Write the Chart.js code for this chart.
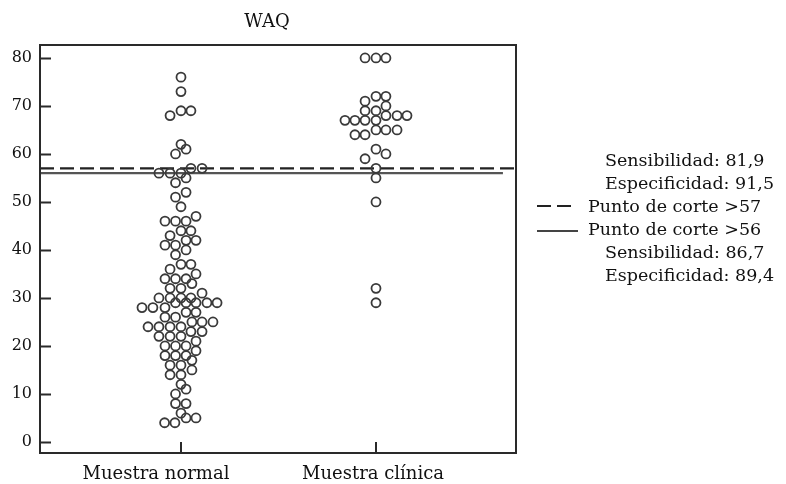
<!DOCTYPE html>
<html>
<head>
<meta charset="utf-8">
<script src="https://cdn.jsdelivr.net/npm/chart.js@4/dist/chart.umd.min.js"></script>
<style>
html,body{margin:0;padding:0;background:#fff;}
#wrap{width:786px;height:484px;position:relative;}
</style>
</head>
<body>
<div id="wrap"><canvas id="c" width="786" height="484"></canvas></div>
<script>
// ---- data ----
const chartTitle = 'WAQ';
const categories = ['Muestra normal', 'Muestra clínica'];
const yTicks = [0, 10, 20, 30, 40, 50, 60, 70, 80];

const normalValues = [
  76, 73, 68, 69, 69, 62, 61, 60, 56, 56, 56, 57, 57, 55, 54, 52, 51, 49,
  46, 46, 46, 47, 44, 44, 43, 42, 42, 41, 41, 40, 39, 37, 37, 36, 35,
  34, 34, 34, 33, 32, 32, 31, 30, 30, 30, 30,
  29, 29, 29, 29, 29, 28, 28, 28, 27, 27, 26, 26,
  25, 25, 25, 24, 24, 24, 24, 23, 23, 22, 22, 22,
  21, 20, 20, 20, 19, 18, 18, 18, 17, 16, 16, 15, 14, 14,
  12, 11, 10, 8, 8, 6, 5, 5, 4, 4
];
const normalOffsets = [
  0, 0, -0.056, 0, 0.051, 0, 0.026, -0.028, -0.113, -0.056, 0, 0.051, 0.108, 0.026, -0.028, 0.026, -0.028, 0,
  -0.082, -0.028, 0.026, 0.077, 0, 0.051, -0.056, 0.026, 0.077, -0.082, -0.028, 0.026, -0.028, 0, 0.051, -0.056, 0.077,
  -0.082, -0.028, 0.026, 0.056, -0.056, 0, 0.108, -0.113, -0.056, 0, 0.051,
  -0.028, 0.026, 0.077, 0.133, 0.185, -0.200, -0.144, -0.082, 0.026, 0.077, -0.082, -0.028,
  0.056, 0.108, 0.164, -0.169, -0.113, -0.056, 0, 0.051, 0.108, -0.113, -0.056, 0,
  0.077, -0.082, -0.028, 0.026, 0.077, -0.082, -0.028, 0.026, 0.056, -0.056, 0, 0.056, -0.056, 0,
  0, 0.026, -0.028, -0.028, 0.026, 0, 0.026, 0.077, -0.084, -0.031
];

const clinicValues = [
  80, 80, 80, 72, 72, 71, 70, 69, 69,
  67, 67, 67, 67, 68, 68, 68, 64, 64, 65, 65, 65,
  61, 60, 59, 57, 55, 50, 32, 29
];
const clinicOffsets = [
  -0.056, 0, 0.051, 0, 0.051, -0.056, 0.051, -0.056, 0,
  -0.159, -0.108, -0.056, 0, 0.051, 0.108, 0.159, -0.108, -0.056, 0, 0.051, 0.108,
  0, 0.051, -0.056, 0, 0, 0, 0, 0
];

const cutLabels = ['Punto de corte >57', 'Punto de corte >56'];
const cutValues = [57, 56];
const statsTop = ['Sensibilidad: 81,9', 'Especificidad: 91,5'];
const statsBottom = ['Sensibilidad: 86,7', 'Especificidad: 89,4'];

// ---- scale bounds ----
const X_MIN = -0.723, X_MAX = 1.718, SOLID_END = 1.651;
const Y_MIN = -2.3, Y_MAX = 82.7;

const INK = '#2a2a2a';
const SERIF = '"DejaVu Serif", "Liberation Serif", serif';

function pts(values, offsets, cat) {
  return values.map((v, i) => ({ x: cat + offsets[i], y: v }));
}

const decor = {
  id: 'decor',
  afterDatasetsDraw(chart) {
    const ctx = chart.ctx;
    const a = chart.chartArea;
    const xs = chart.scales.x, ys = chart.scales.y;
    ctx.save();
    // frame
    ctx.strokeStyle = INK;
    ctx.lineWidth = 2;
    ctx.strokeRect(a.left, a.top, a.right - a.left, a.bottom - a.top);
    // inward ticks
    ctx.beginPath();
    yTicks.forEach(t => {
      const y = Math.round(ys.getPixelForValue(t)) + 0.5;
      ctx.moveTo(a.left, y); ctx.lineTo(a.left + 11, y);
    });
    categories.forEach((c, i) => {
      const x = Math.round(xs.getPixelForValue(i));
      ctx.moveTo(x, a.bottom); ctx.lineTo(x, a.bottom - 11);
    });
    ctx.stroke();
    // title
    ctx.fillStyle = '#111';
    ctx.font = '18px ' + SERIF;
    ctx.textAlign = 'center';
    ctx.textBaseline = 'middle';
    ctx.fillText(chartTitle, 267, 22);
    // category labels
    ctx.font = '18px ' + SERIF;
    const shift = [-25, -3];
    categories.forEach((c, i) => {
      ctx.fillText(c, xs.getPixelForValue(i) + shift[i], 474);
    });
    // legend
    ctx.textAlign = 'left';
    ctx.font = '17.5px ' + SERIF;
    const lx = 605, lx2 = 588;
    const rows = [161, 184, 207, 230, 253, 276];
    ctx.fillText(statsTop[0], lx, rows[0]);
    ctx.fillText(statsTop[1], lx, rows[1]);
    ctx.fillText(cutLabels[0], lx2, rows[2]);
    ctx.fillText(cutLabels[1], lx2, rows[3]);
    ctx.fillText(statsBottom[0], lx, rows[4]);
    ctx.fillText(statsBottom[1], lx, rows[5]);
    ctx.strokeStyle = '#222';
    ctx.lineWidth = 2;
    ctx.setLineDash([14, 6]);
    ctx.beginPath(); ctx.moveTo(537, rows[2] - 1); ctx.lineTo(577, rows[2] - 1); ctx.stroke();
    ctx.setLineDash([]);
    ctx.strokeStyle = '#444';
    ctx.beginPath(); ctx.moveTo(537, rows[3] + 1); ctx.lineTo(578, rows[3] + 1); ctx.stroke();
    ctx.restore();
  }
};

new Chart(document.getElementById('c'), {
  type: 'scatter',
  data: {
    datasets: [
      {
        type: 'line',
        label: cutLabels[0],
        data: [{ x: X_MIN, y: cutValues[0] }, { x: X_MAX + 0.01, y: cutValues[0] }],
        borderColor: '#222', borderWidth: 2.2, borderDash: [14, 6],
        pointRadius: 0, fill: false, clip: false, order: 2
      },
      {
        type: 'line',
        label: cutLabels[1],
        data: [{ x: X_MIN, y: cutValues[1] }, { x: SOLID_END, y: cutValues[1] }],
        borderColor: '#555', borderWidth: 2.2,
        pointRadius: 0, fill: false, clip: false, order: 2
      },
      {
        label: categories[0],
        data: pts(normalValues, normalOffsets, 0),
        pointStyle: 'circle', pointRadius: 4.5, borderWidth: 1.8,
        borderColor: '#3a3a3a', backgroundColor: 'rgba(0,0,0,0)', order: 1
      },
      {
        label: categories[1],
        data: pts(clinicValues, clinicOffsets, 1),
        pointStyle: 'circle', pointRadius: 4.5, borderWidth: 1.8,
        borderColor: '#3a3a3a', backgroundColor: 'rgba(0,0,0,0)', order: 1
      }
    ]
  },
  options: {
    responsive: false,
    animation: false,
    events: [],
    layout: { padding: { top: 45, right: 270, left: 0, bottom: 0 } },
    plugins: { legend: { display: false }, tooltip: { enabled: false }, title: { display: false } },
    scales: {
      x: {
        type: 'linear', min: X_MIN, max: X_MAX,
        grid: { display: false, drawTicks: false },
        border: { display: false },
        ticks: { display: false },
        afterFit(s) { s.height = 31; }
      },
      y: {
        type: 'linear', min: Y_MIN, max: Y_MAX,
        grid: { display: false, drawTicks: false },
        border: { display: false },
        afterBuildTicks(s) { s.ticks = yTicks.map(v => ({ value: v })); },
        ticks: {
          color: '#111', padding: 8,
          font: { family: SERIF, size: 16 },
          callback: v => String(v)
        },
        afterFit(s) { s.width = 40; }
      }
    }
  },
  plugins: [decor]
});
</script>
</body>
</html>
